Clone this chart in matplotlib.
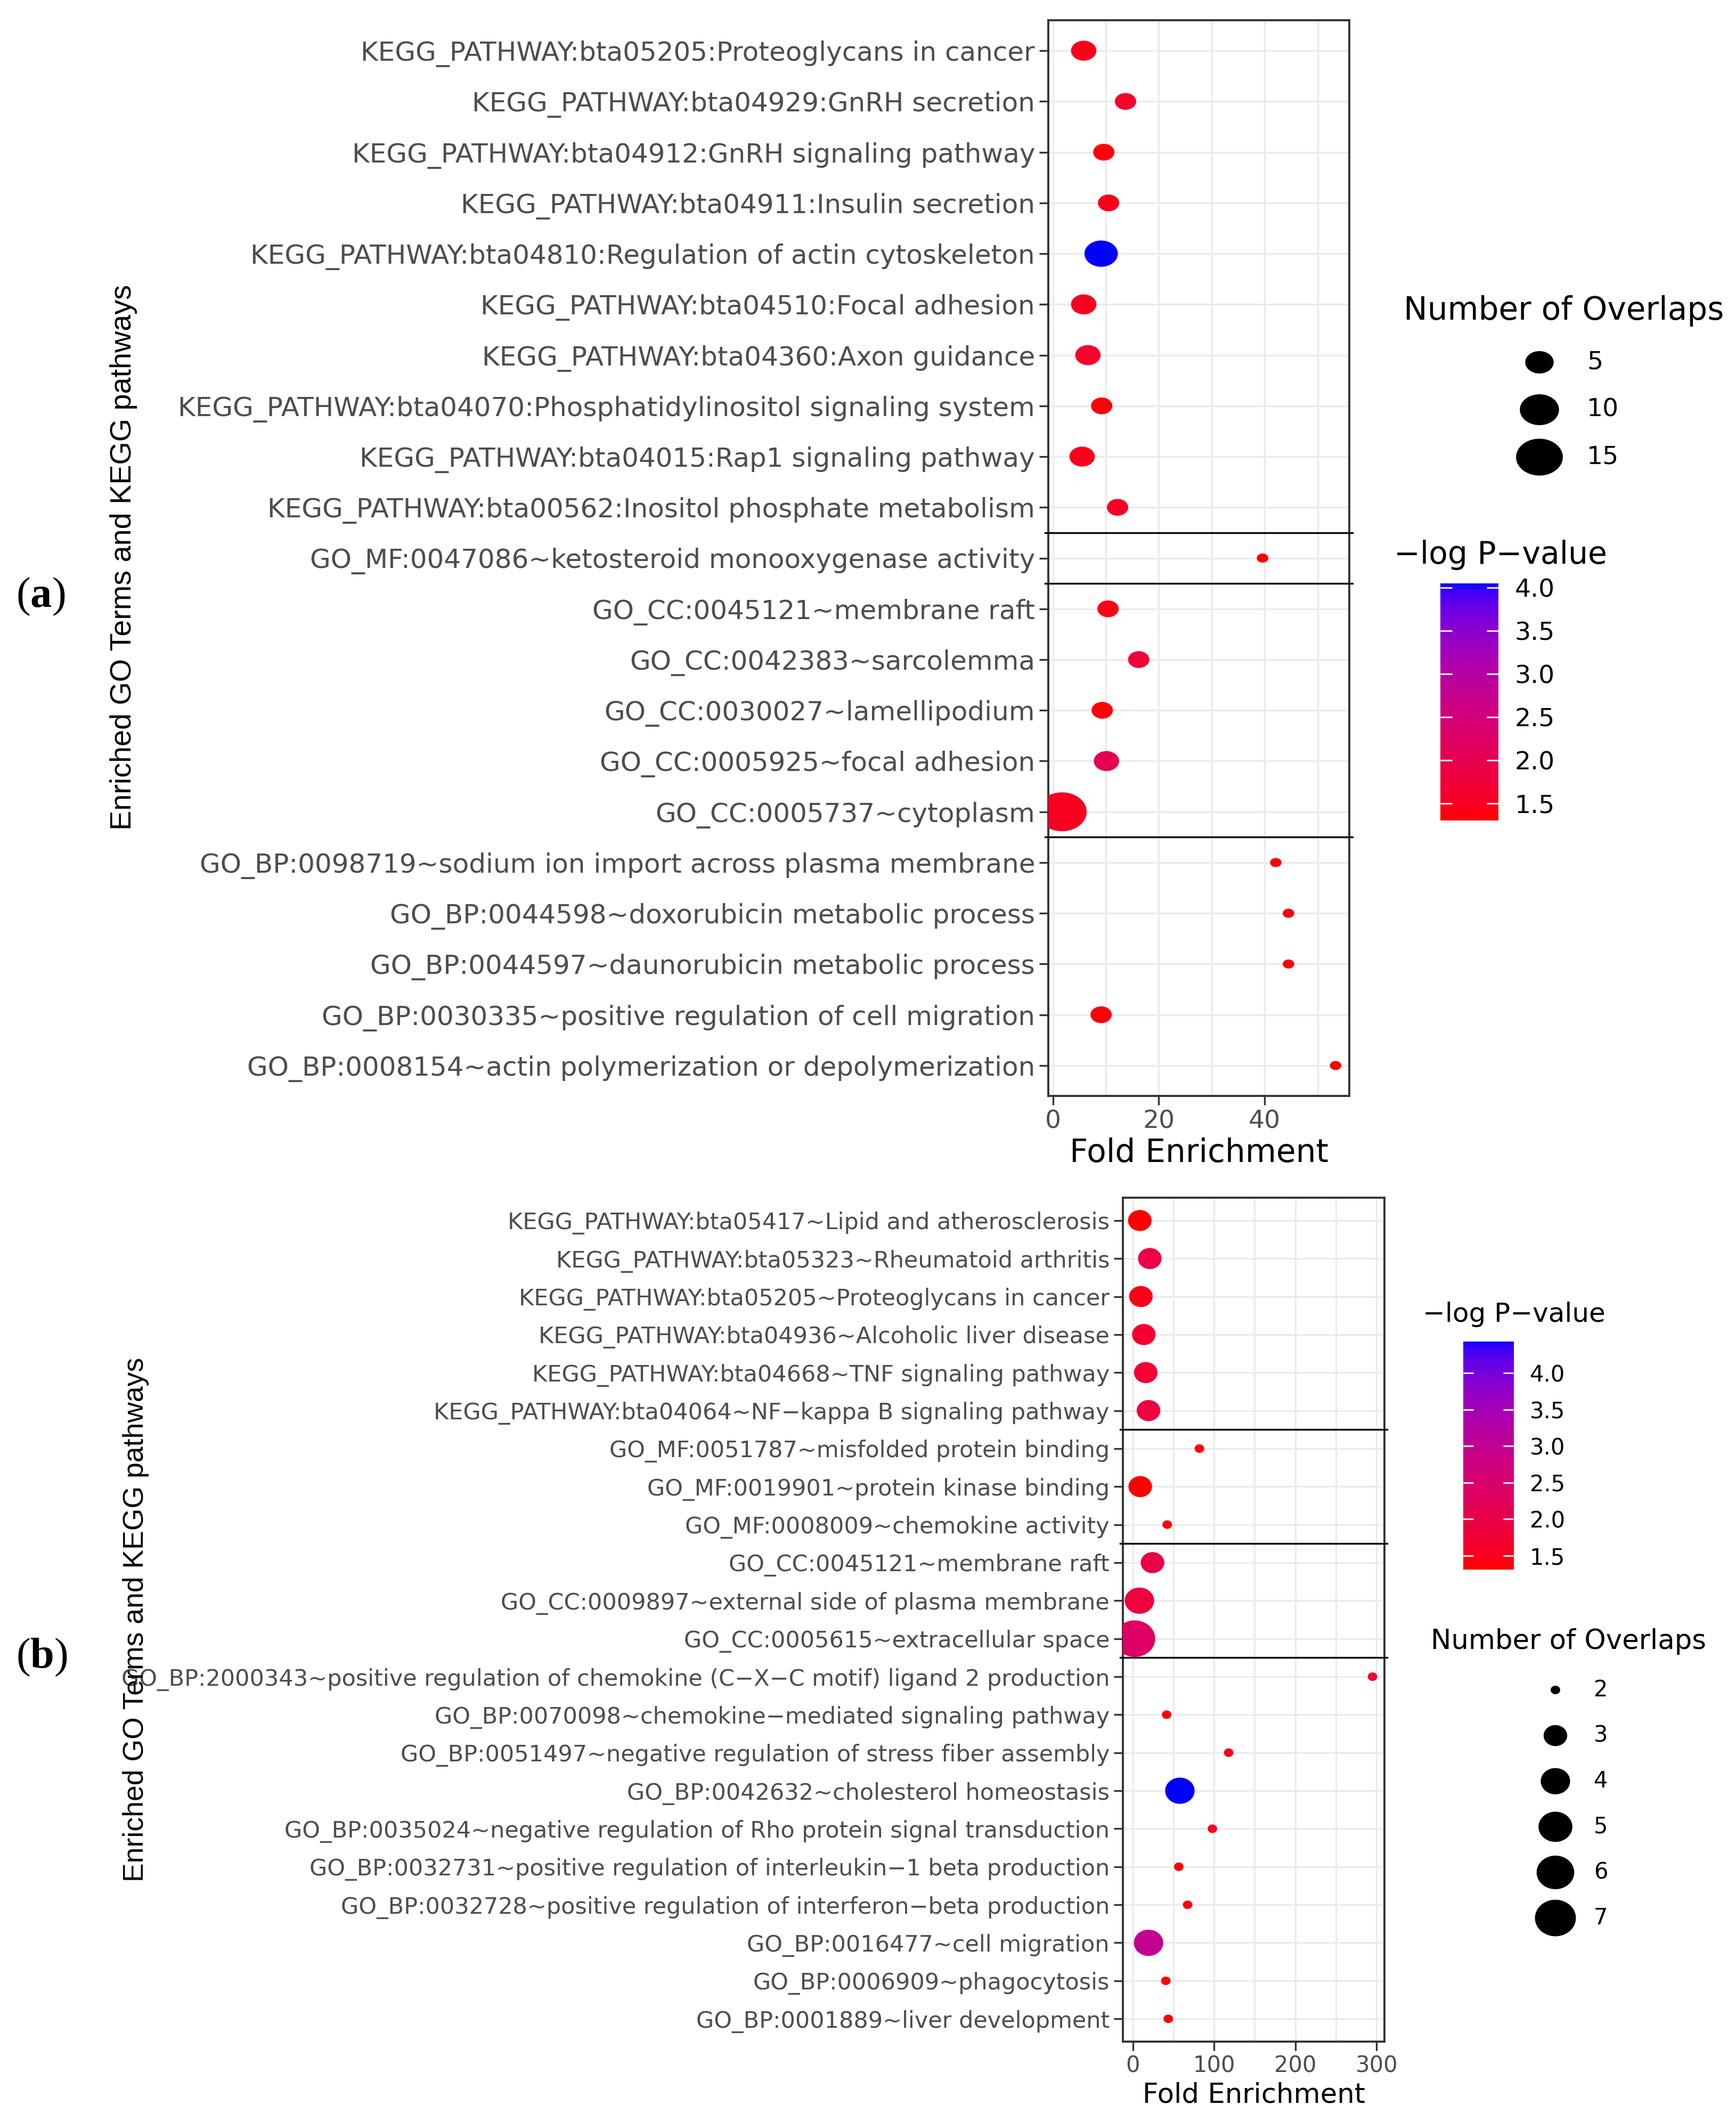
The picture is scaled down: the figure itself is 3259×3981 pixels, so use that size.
import numpy as np
import matplotlib
matplotlib.use("Agg")
import matplotlib.pyplot as plt
from matplotlib import font_manager
from matplotlib.colors import ListedColormap
from matplotlib.path import Path
from matplotlib.transforms import blended_transform_factory

# ---------------- data ----------------
terms_a = [
    "KEGG_PATHWAY:bta05205:Proteoglycans in cancer",
    "KEGG_PATHWAY:bta04929:GnRH secretion",
    "KEGG_PATHWAY:bta04912:GnRH signaling pathway",
    "KEGG_PATHWAY:bta04911:Insulin secretion",
    "KEGG_PATHWAY:bta04810:Regulation of actin cytoskeleton",
    "KEGG_PATHWAY:bta04510:Focal adhesion",
    "KEGG_PATHWAY:bta04360:Axon guidance",
    "KEGG_PATHWAY:bta04070:Phosphatidylinositol signaling system",
    "KEGG_PATHWAY:bta04015:Rap1 signaling pathway",
    "KEGG_PATHWAY:bta00562:Inositol phosphate metabolism",
    "GO_MF:0047086~ketosteroid monooxygenase activity",
    "GO_CC:0045121~membrane raft",
    "GO_CC:0042383~sarcolemma",
    "GO_CC:0030027~lamellipodium",
    "GO_CC:0005925~focal adhesion",
    "GO_CC:0005737~cytoplasm",
    "GO_BP:0098719~sodium ion import across plasma membrane",
    "GO_BP:0044598~doxorubicin metabolic process",
    "GO_BP:0044597~daunorubicin metabolic process",
    "GO_BP:0030335~positive regulation of cell migration",
    "GO_BP:0008154~actin polymerization or depolymerization",
]
group_a = ["KEGG"] * 10 + ["MF"] + ["CC"] * 5 + ["BP"] * 5
fold_a = [5.8, 13.7, 9.6, 10.5, 9.1, 5.8, 6.6, 9.2, 5.5, 12.2, 39.6,
          10.4, 16.2, 9.3, 10.1, 1.7, 42.1, 44.5, 44.5, 9.1, 53.4]
count_a = [4, 3, 3, 3, 7, 4, 4, 3, 4, 3, 2, 3, 3, 3, 4, 17, 2, 2, 2, 3, 2]
logp_a = [1.45, 1.6, 1.35, 1.45, 4.05, 1.5, 1.6, 1.35, 1.45, 1.55, 1.3,
          1.4, 1.7, 1.35, 2.0, 1.5, 1.32, 1.33, 1.33, 1.35, 1.32]

terms_b = [
    "KEGG_PATHWAY:bta05417~Lipid and atherosclerosis",
    "KEGG_PATHWAY:bta05323~Rheumatoid arthritis",
    "KEGG_PATHWAY:bta05205~Proteoglycans in cancer",
    "KEGG_PATHWAY:bta04936~Alcoholic liver disease",
    "KEGG_PATHWAY:bta04668~TNF signaling pathway",
    "KEGG_PATHWAY:bta04064~NF\u2212kappa B signaling pathway",
    "GO_MF:0051787~misfolded protein binding",
    "GO_MF:0019901~protein kinase binding",
    "GO_MF:0008009~chemokine activity",
    "GO_CC:0045121~membrane raft",
    "GO_CC:0009897~external side of plasma membrane",
    "GO_CC:0005615~extracellular space",
    "GO_BP:2000343~positive regulation of chemokine (C\u2212X\u2212C motif) ligand 2 production",
    "GO_BP:0070098~chemokine\u2212mediated signaling pathway",
    "GO_BP:0051497~negative regulation of stress fiber assembly",
    "GO_BP:0042632~cholesterol homeostasis",
    "GO_BP:0035024~negative regulation of Rho protein signal transduction",
    "GO_BP:0032731~positive regulation of interleukin\u22121 beta production",
    "GO_BP:0032728~positive regulation of interferon\u2212beta production",
    "GO_BP:0016477~cell migration",
    "GO_BP:0006909~phagocytosis",
    "GO_BP:0001889~liver development",
]
group_b = ["KEGG"] * 6 + ["MF"] * 3 + ["CC"] * 3 + ["BP"] * 10
fold_b = [8.7, 21, 10, 13.6, 16, 19.4, 82, 9.2, 42.4, 24.3, 8.2, 2.5,
          295, 41.7, 118, 58, 98, 56.6, 67.5, 19.4, 40.7, 43.7]
count_b = [3, 3, 3, 3, 3, 3, 2, 3, 2, 3, 4, 7, 2, 2, 2, 4, 2, 2, 2, 4, 2, 2]
logp_b = [1.31, 1.95, 1.45, 1.7, 1.75, 1.9, 1.35, 1.33, 1.35, 2.0, 1.85, 2.35,
          1.75, 1.35, 1.5, 4.43, 1.45, 1.35, 1.4, 3.0, 1.35, 1.4]

xticks_a = [0, 20, 40]
xticks_b = [0, 100, 200, 300]
size_breaks_a = [5, 10, 15]
size_breaks_b = [2, 3, 4, 5, 6, 7]
cbar_ticks = [1.5, 2.0, 2.5, 3.0, 3.5, 4.0]

# ---------------- figure setup ----------------
W, H, DPI = 3259, 3981, 100
plt.rcParams["font.family"] = ["DejaVu Sans"]
plt.rcParams["mathtext.fontset"] = "custom"
plt.rcParams["mathtext.rm"] = "Liberation Serif"
plt.rcParams["mathtext.bf"] = "Liberation Serif:bold"

try:
    font_manager.findfont("Liberation Sans Narrow", fallback_to_default=False)
    ylab_family, ylab_scale = "Liberation Sans Narrow", 1.0
except ValueError:
    ylab_family, ylab_scale = "Liberation Sans", 0.82

fig = plt.figure(figsize=(W / DPI, H / DPI), dpi=DPI, facecolor="white")
overlay = fig.add_axes([0, 0, 1, 1])
overlay.set_xlim(0, W)
overlay.set_ylim(H, 0)
overlay.set_axis_off()


# ggplot-like red -> blue gradient interpolated in CIELAB
M = np.array([[0.4124564, 0.3575761, 0.1804375],
              [0.2126729, 0.7151522, 0.0721750],
              [0.0193339, 0.1191920, 0.9503041]])
WHITE = np.array([0.95047, 1.0, 1.08883])


def to_lab(rgb):
    c = np.asarray(rgb, float)
    lin = np.where(c <= 0.04045, c / 12.92, ((c + 0.055) / 1.055) ** 2.4)
    t = (M @ lin) / WHITE
    d = 6 / 29
    f = np.where(t > d ** 3, np.cbrt(t), t / (3 * d * d) + 4 / 29)
    return np.array([116 * f[1] - 16, 500 * (f[0] - f[1]), 200 * (f[1] - f[2])])


def from_lab(lab):
    L, a, b = lab
    fy = (L + 16) / 116
    f = np.array([fy + a / 500, fy, fy - b / 200])
    d = 6 / 29
    t = np.where(f > d, f ** 3, 3 * d * d * (f - 4 / 29))
    lin = np.clip(np.linalg.solve(M, t * WHITE), 0, 1)
    c = np.where(lin <= 0.0031308, 12.92 * lin, 1.055 * lin ** (1 / 2.4) - 0.055)
    return np.clip(c, 0, 1)


lab_lo, lab_hi = to_lab([1, 0, 0]), to_lab([0, 0, 1])
cmap = ListedColormap([from_lab(lab_lo + t * (lab_hi - lab_lo)) for t in np.linspace(0, 1, 256)])


def ellipse_marker(stretch):
    t = np.linspace(0, 2 * np.pi, 80)
    return Path(np.column_stack([stretch * np.cos(t), np.sin(t)]), closed=True)


def dot_area(n, nmin, nmax, stretch, scale):
    # ggplot scale_size: size = 1 + 5*sqrt(rescaled value)
    size = 1 + 5 * np.sqrt((np.asarray(n, float) - nmin) / (nmax - nmin))
    height_px = (5.8 + 11.2 * size) * scale
    width_pt = height_px * stretch * 72 / DPI
    return width_pt ** 2


def panel(rect, terms, groups, fold, count, logp, xticks, xminor,
          fs_y, fs_x, fs_title, stretch, scale):
    ax = fig.add_axes(rect)
    n = len(terms)
    ypos = np.arange(n)
    rng = max(fold) - min(fold)
    ax.set_xlim(min(fold) - 0.05 * rng, max(fold) + 0.05 * rng)
    ax.set_ylim(n - 1 + 0.6, -0.6)

    ax.set_xticks(xticks)
    ax.set_xticks(xminor, minor=True)
    ax.set_yticks(ypos)
    ax.set_yticklabels(terms)
    ax.grid(which="both", axis="x", color="#EBEBEB", lw=2.4, zorder=0)
    ax.grid(which="major", axis="y", color="#EBEBEB", lw=2.4, zorder=0)
    ax.set_axisbelow(True)
    ax.tick_params(which="major", length=12, width=2.4, color="#333333",
                   labelcolor="#4D4D4D", pad=6)
    ax.tick_params(axis="y", labelsize=fs_y)
    ax.tick_params(axis="x", labelsize=fs_x)
    ax.tick_params(which="minor", length=0)
    for sp in ax.spines.values():
        sp.set_color("#333333")
        sp.set_linewidth(2.8)

    vmin, vmax = min(logp), max(logp)
    ax.scatter(fold, ypos, s=dot_area(count, min(count), max(count), stretch, scale),
               c=logp, cmap=cmap, vmin=vmin, vmax=vmax,
               marker=ellipse_marker(stretch), edgecolors="none", zorder=3)

    # black separators between term categories
    tr = blended_transform_factory(ax.transAxes, ax.transData)
    for i in range(1, n):
        if groups[i] != groups[i - 1]:
            ax.plot([-0.01, 1.01], [i - 0.5, i - 0.5], color="black", lw=2.4,
                    transform=tr, clip_on=False, zorder=5)

    ax.set_xlabel("Fold Enrichment", fontsize=fs_title, color="black", labelpad=6)
    return ax, vmin, vmax


def colorbar(rect, vmin, vmax, fs_lab):
    cax = fig.add_axes(rect)
    grad = np.linspace(vmin, vmax, 256)[:, None]
    cax.imshow(grad, extent=[0, 1, vmin, vmax], origin="lower", aspect="auto",
               cmap=cmap, vmin=vmin, vmax=vmax)
    cax.set_xlim(0, 1)
    cax.set_ylim(vmin, vmax)
    ticks = [t for t in cbar_ticks if vmin <= t <= vmax]
    cax.hlines(ticks, 0, 0.2, color="white", lw=2)
    cax.hlines(ticks, 0.8, 1, color="white", lw=2)
    cax.set_xticks([])
    cax.yaxis.tick_right()
    cax.set_yticks(ticks)
    cax.set_yticklabels([f"{t:.1f}" for t in ticks])
    cax.tick_params(axis="y", length=0, pad=22, labelsize=fs_lab, labelcolor="black")
    for sp in cax.spines.values():
        sp.set_visible(False)


def size_legend(title_xy, fs_title, breaks, nmin, nmax, dot_x, y0, step,
                lab_x, fs_lab, stretch, scale):
    overlay.text(title_xy[0], title_xy[1], "Number of Overlaps", fontsize=fs_title,
                 ha="left", va="center", color="black")
    ys = y0 + step * np.arange(len(breaks))
    overlay.scatter([dot_x] * len(breaks), ys,
                    s=dot_area(breaks, nmin, nmax, stretch, scale),
                    color="black", marker=ellipse_marker(stretch), edgecolors="none")
    for b, y in zip(breaks, ys):
        overlay.text(lab_x, y, str(b), fontsize=fs_lab, ha="left", va="center")


# ---------------- panel (a) ----------------
ax_a, vmin_a, vmax_a = panel([1968 / W, 1 - 2057 / H, 565 / W, 2019 / H],
                             terms_a, group_a, fold_a, count_a, logp_a,
                             xticks_a, [10, 30, 50], 36, 34, 43, 1.27, 1.0)
size_legend((2635, 583), 43, size_breaks_a, min(count_a), max(count_a),
            2890, 680, 89, 2979, 34, 1.27, 1.0)
overlay.text(2617, 1041, "\u2212log P\u2212value", fontsize=42, ha="left", va="center")
colorbar([2704 / W, 1 - 1540 / H, 109 / W, 445 / H], vmin_a, vmax_a, 34)

fig.text(232 / W, 1 - 1046 / H, "Enriched GO Terms and KEGG pathways",
         rotation=90, ha="center", va="center", family=ylab_family,
         fontsize=49 * ylab_scale, color="black")
fig.text(76 / W, 1 - 1120 / H, r"($\mathbf{a}$)", family="Liberation Serif",
         fontsize=58, ha="center", va="center")

# ---------------- panel (b) ----------------
ax_b, vmin_b, vmax_b = panel([2108 / W, 1 - 3832 / H, 491 / W, 1584 / H],
                             terms_b, group_b, fold_b, count_b, logp_b,
                             xticks_b, [50, 150, 250], 31, 30, 37, 1.12, 0.94)
overlay.text(2671, 2467, "\u2212log P\u2212value", fontsize=36, ha="left", va="center")
colorbar([2747 / W, 1 - 2946 / H, 94 / W, 428 / H], vmin_b, vmax_b, 30)
size_legend((2686, 3081), 37, size_breaks_b, min(count_b), max(count_b),
            2920, 3172, 85.6, 2992, 30, 1.12, 0.94)

fig.text(255 / W, 1 - 3040 / H, "Enriched GO Terms and KEGG pathways",
         rotation=90, ha="center", va="center", family=ylab_family,
         fontsize=47 * ylab_scale, color="black")
fig.text(78 / W, 1 - 3111 / H, r"($\mathbf{b}$)", family="Liberation Serif",
         fontsize=58, ha="center", va="center")

fig.savefig("out.png", dpi=DPI, facecolor="white")
